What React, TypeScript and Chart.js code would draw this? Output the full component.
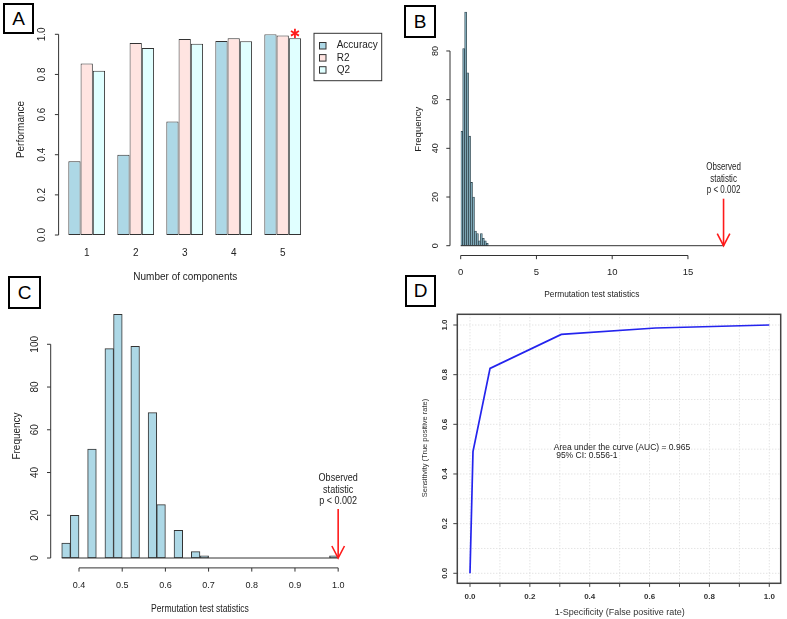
import React, { useEffect, useRef } from "react";
import { Chart, registerables } from "chart.js";
Chart.register(...registerables);

const FONT = '"Liberation Sans", Arial, Helvetica, sans-serif';

// ---------- Panel A: model performance by number of components ----------
const componentLabels = ["1", "2", "3", "4", "5"];
const accuracyValues = [0.368, 0.4, 0.566, 0.967, 1.0];
const r2Values = [0.855, 0.957, 0.977, 0.98, 0.994];
const q2Values = [0.819, 0.932, 0.953, 0.965, 0.98];
const seriesNamesA = ["Accuracy", "R2", "Q2"];
const seriesColorsA = ["#ADD8E6", "#FFE4E1", "#E0FFFF"];
const performanceTicks = [0, 0.2, 0.4, 0.6, 0.8, 1.0];
const bestComponentIndex = 4;

// ---------- Panel B: permutation histogram ----------
const histBBinStarts = [0, 0.13, 0.26, 0.39, 0.52, 0.65, 0.78, 0.91, 1.04, 1.17, 1.3, 1.43, 1.56, 1.69];
const histBBinWidth = 0.13;
const histBCounts = [47, 81, 96, 71, 45, 26, 20, 6, 5, 2, 5, 3, 2, 1];
const histBObserved = 17.35;
const histBXTicks = [0, 5, 10, 15];
const histBYTicks = [0, 20, 40, 60, 80];

// ---------- Panel C: permutation histogram ----------
const histCBinStarts = [
  0.36, 0.38, 0.4, 0.42, 0.44, 0.46, 0.48, 0.5, 0.52, 0.54, 0.56, 0.58, 0.6, 0.62, 0.64, 0.66,
  0.68, 0.7, 0.72, 0.74, 0.76, 0.78, 0.8, 0.82, 0.84, 0.86, 0.88, 0.9, 0.92, 0.94, 0.96, 0.98,
];
const histCBinWidth = 0.02;
const histCCounts = [
  7, 20, 0, 51, 0, 98, 114, 0, 99, 0, 68, 25, 0, 13, 0, 3,
  1, 0, 0, 0, 0, 0, 0, 0, 0, 0, 0, 0, 0, 0, 0, 1,
];
const histCObserved = 1.0;
const histCXTicks = [0.4, 0.5, 0.6, 0.7, 0.8, 0.9, 1.0];
const histCYTicks = [0, 20, 40, 60, 80, 100];

// ---------- Panel D: ROC curve ----------
const rocFpr = [0, 0.01, 0.067, 0.305, 0.62, 1.0];
const rocTpr = [0, 0.49, 0.825, 0.962, 0.988, 1.0];
const rocTicks = [0, 0.2, 0.4, 0.6, 0.8, 1.0];
const rocMinorTicks = [0, 0.1, 0.2, 0.3, 0.4, 0.5, 0.6, 0.7, 0.8, 0.9, 1.0];
const aucLines = ["Area under the curve (AUC) = 0.965", " 95% CI: 0.556-1"];
const aucTextX = 0.28;
const aucTextY = [0.506, 0.472];

const observedLines = ["Observed", "statistic", "p < 0.002"];
const panelTags = [
  { t: "A", x: 3, y: 3, w: 31, h: 31 },
  { t: "B", x: 404, y: 5, w: 32, h: 33 },
  { t: "C", x: 8, y: 276, w: 33, h: 33 },
  { t: "D", x: 405, y: 275, w: 31, h: 32 },
];

type Box = { x: number; y: number; w: number; h: number };
const boxA: Box = { x: 0, y: 0, w: 393, h: 305 };
const boxB: Box = { x: 393, y: 0, w: 394, h: 305 };
const boxC: Box = { x: 0, y: 305, w: 393, h: 314 };
const boxD: Box = { x: 393, y: 305, w: 394, h: 314 };

function pad(b: Box, L: number, T: number, R: number, B: number) {
  return { left: L - b.x, top: T - b.y, right: b.x + b.w - R, bottom: b.y + b.h - B };
}

function text(
  ctx: CanvasRenderingContext2D,
  s: string,
  x: number,
  y: number,
  size: number,
  o: { align?: CanvasTextAlign; rot?: boolean; sx?: number; color?: string; bold?: boolean } = {}
) {
  ctx.save();
  ctx.translate(x, y);
  if (o.rot) ctx.rotate(-Math.PI / 2);
  if (o.sx) ctx.scale(o.sx, 1);
  ctx.font = `${o.bold ? "bold " : ""}${size}px ${FONT}`;
  ctx.fillStyle = o.color || "#222";
  ctx.textAlign = o.align || "center";
  ctx.textBaseline = "middle";
  ctx.fillText(s, 0, 0);
  ctx.restore();
}

function line(
  ctx: CanvasRenderingContext2D,
  x1: number,
  y1: number,
  x2: number,
  y2: number,
  color = "#333",
  w = 1,
  dash: number[] = []
) {
  ctx.save();
  ctx.strokeStyle = color;
  ctx.lineWidth = w;
  ctx.setLineDash(dash);
  ctx.beginPath();
  ctx.moveTo(x1, y1);
  ctx.lineTo(x2, y2);
  ctx.stroke();
  ctx.restore();
}

function arrow(ctx: CanvasRenderingContext2D, x: number, yTop: number, yTip: number) {
  const red = "#ff1a1a";
  line(ctx, x, yTop, x, yTip, red, 1.6);
  ctx.save();
  ctx.strokeStyle = red;
  ctx.lineWidth = 1.6;
  ctx.beginPath();
  ctx.moveTo(x - 6.3, yTip - 12);
  ctx.lineTo(x, yTip);
  ctx.lineTo(x + 6.3, yTip - 12);
  ctx.stroke();
  ctx.restore();
}

function mappers(chart: any, b: Box) {
  const xs = chart.scales.x;
  const ys = chart.scales.y;
  return {
    X: (v: number) => xs.getPixelForValue(v) + b.x,
    Y: (v: number) => ys.getPixelForValue(v) + b.y,
  };
}

// ---------------- configs ----------------
function configA(): any {
  const sets = [accuracyValues, r2Values, q2Values];
  return {
    type: "bar",
    data: {
      labels: componentLabels,
      datasets: sets.map((d, i) => ({
        label: seriesNamesA[i],
        data: d,
        backgroundColor: seriesColorsA[i],
        borderColor: "#333",
        borderWidth: 1,
        borderSkipped: false,
        categoryPercentage: 0.75,
        barPercentage: 1,
      })),
    },
    options: {
      animation: false,
      responsive: false,
      layout: { padding: pad(boxA, 62.2, 34.3, 307.2, 235) },
      plugins: { legend: { display: false }, tooltip: { enabled: false } },
      scales: { x: { display: false }, y: { display: false, min: 0, max: 1 } },
    },
    plugins: [
      {
        id: "rAxesA",
        afterDraw(chart: any) {
          const ctx = chart.ctx as CanvasRenderingContext2D;
          const { X, Y } = mappers(chart, boxA);
          ctx.save();
          ctx.translate(-boxA.x, -boxA.y);
          const ax = 58.6;
          line(ctx, ax, Y(0), ax, Y(1));
          performanceTicks.forEach((t) => {
            line(ctx, ax - 3.7, Y(t), ax, Y(t));
            text(ctx, t.toFixed(1), 42.5, Y(t), 10, { rot: true });
          });
          componentLabels.forEach((l, i) => text(ctx, l, X(i), 253, 10));
          text(ctx, "Performance", 21.7, 129.5, 10, { rot: true });
          text(ctx, "Number of components", 185.3, 277, 10);
          // legend
          ctx.strokeStyle = "#333";
          ctx.lineWidth = 1;
          ctx.strokeRect(314, 33.3, 67.7, 47.4);
          const ly = [45.7, 57.8, 69.9];
          seriesNamesA.forEach((n, i) => {
            ctx.fillStyle = seriesColorsA[i];
            ctx.fillRect(319.5, ly[i] - 3.2, 6.5, 6.5);
            ctx.strokeRect(319.5, ly[i] - 3.2, 6.5, 6.5);
            text(ctx, n, 336.7, ly[i], 10, { align: "left" });
          });
          // star over best model
          const bar = chart.getDatasetMeta(2).data[bestComponentIndex];
          const sx = bar.x + boxA.x;
          const sy = Y(1) - 1;
          for (let k = 0; k < 3; k++) {
            const a = Math.PI / 2 + (k * Math.PI) / 3;
            line(ctx, sx - 4.6 * Math.cos(a), sy - 4.6 * Math.sin(a), sx + 4.6 * Math.cos(a), sy + 4.6 * Math.sin(a), "#ff1a1a", 1.8);
          }
          ctx.restore();
        },
      },
    ],
  };
}

function configB(): any {
  return {
    type: "bar",
    data: {
      datasets: [
        {
          data: histBBinStarts.map((s, i) => ({ x: s + histBBinWidth / 2, y: histBCounts[i] })),
          backgroundColor: "#7ea9b8",
          borderColor: "#2f4650",
          borderWidth: 0.8,
          borderSkipped: false,
          categoryPercentage: 1,
          barPercentage: 1,
        },
      ],
    },
    options: {
      animation: false,
      responsive: false,
      layout: { padding: pad(boxB, 460.7, 2.3, 733.4, 245.7) },
      plugins: { legend: { display: false }, tooltip: { enabled: false } },
      scales: {
        x: { type: "linear", offset: false, display: false, min: 0, max: 18 },
        y: { display: false, min: 0, max: 100 },
      },
    },
    plugins: [
      {
        id: "rAxesB",
        afterDraw(chart: any) {
          const ctx = chart.ctx as CanvasRenderingContext2D;
          const { X, Y } = mappers(chart, boxB);
          ctx.save();
          ctx.translate(-boxB.x, -boxB.y);
          const ax = 450;
          line(ctx, ax, Y(0), ax, Y(80));
          histBYTicks.forEach((t) => {
            line(ctx, ax - 3.7, Y(t), ax, Y(t));
            text(ctx, String(t), 435.7, Y(t), 9, { rot: true });
          });
          const ay = 255.5;
          line(ctx, X(0), ay, X(15), ay);
          histBXTicks.forEach((t) => {
            line(ctx, X(t), ay, X(t), ay + 3.7);
            text(ctx, String(t), X(t), 272.7, 9.5);
          });
          line(ctx, X(0), Y(0), X(histBObserved), Y(0), "#333", 1);
          const ox = X(histBObserved);
          arrow(ctx, ox, Y(0) - 47, Y(0));
          [167.7, 179.3, 190.7].forEach((yy, i) => text(ctx, observedLines[i], ox, yy, 10, { sx: 0.8 }));
          text(ctx, "Frequency", 418, 129.2, 9.5, { rot: true });
          text(ctx, "Permutation test statistics", 591.8, 294.7, 9.5, { sx: 0.88 });
          ctx.restore();
        },
      },
    ],
  };
}

function configC(): any {
  return {
    type: "bar",
    data: {
      datasets: [
        {
          data: histCBinStarts.map((s, i) => ({ x: s + histCBinWidth / 2, y: histCCounts[i] })),
          backgroundColor: "#ADD8E6",
          borderColor: "#333",
          borderWidth: 1,
          borderSkipped: false,
          categoryPercentage: 1,
          barPercentage: 1,
        },
      ],
    },
    options: {
      animation: false,
      responsive: false,
      layout: { padding: pad(boxC, 53.1, 312.24, 346.8, 558) },
      plugins: { legend: { display: false }, tooltip: { enabled: false } },
      scales: {
        x: { type: "linear", offset: false, display: false, min: 0.34, max: 1.02 },
        y: { display: false, min: 0, max: 115 },
      },
    },
    plugins: [
      {
        id: "rAxesC",
        afterDraw(chart: any) {
          const ctx = chart.ctx as CanvasRenderingContext2D;
          const { X, Y } = mappers(chart, boxC);
          ctx.save();
          ctx.translate(-boxC.x, -boxC.y);
          const ax = 50.7;
          line(ctx, ax, Y(0), ax, Y(100));
          histCYTicks.forEach((t) => {
            line(ctx, ax - 3.7, Y(t), ax, Y(t));
            text(ctx, String(t), 35, Y(t), 10, { rot: true });
          });
          const ay = 567.9;
          line(ctx, X(0.4), ay, X(1.0), ay);
          histCXTicks.forEach((t) => {
            line(ctx, X(t), ay, X(t), ay + 3.7);
            text(ctx, t.toFixed(1), X(t), 586, 9);
          });
          line(ctx, X(histCBinStarts[0]), Y(0), X(histCObserved), Y(0), "#333", 1);
          const ox = X(histCObserved);
          arrow(ctx, ox, Y(0) - 49, Y(0));
          [477.7, 489.7, 501.2].forEach((yy, i) => text(ctx, observedLines[i], ox, yy, 10.5, { sx: 0.86 }));
          text(ctx, "Frequency", 17.3, 436, 10, { rot: true });
          text(ctx, "Permutation test statistics", 200, 609.3, 11, { sx: 0.78 });
          ctx.restore();
        },
      },
    ],
  };
}

function configD(): any {
  return {
    type: "line",
    data: {
      datasets: [
        {
          data: rocFpr.map((x, i) => ({ x, y: rocTpr[i] })),
          borderColor: "#2424ee",
          borderWidth: 1.7,
          pointRadius: 0,
          tension: 0,
          fill: false,
        },
      ],
    },
    options: {
      animation: false,
      responsive: false,
      layout: { padding: pad(boxD, 457.3, 314.3, 780.7, 583.3) },
      plugins: { legend: { display: false }, tooltip: { enabled: false } },
      scales: {
        x: { type: "linear", display: false, min: -0.0424, max: 1.0381 },
        y: { type: "linear", display: false, min: -0.0403, max: 1.0431 },
      },
    },
    plugins: [
      {
        id: "rGridD",
        beforeDatasetsDraw(chart: any) {
          const ctx = chart.ctx as CanvasRenderingContext2D;
          const { X, Y } = mappers(chart, boxD);
          const ca = chart.chartArea;
          ctx.save();
          ctx.translate(-boxD.x, -boxD.y);
          const L = ca.left + boxD.x, R = ca.right + boxD.x, T = ca.top + boxD.y, B = ca.bottom + boxD.y;
          rocMinorTicks.forEach((t) => {
            line(ctx, X(t), T, X(t), B, "#d8d8d8", 1, [1, 2]);
            line(ctx, L, Y(t), R, Y(t), "#d8d8d8", 1, [1, 2]);
          });
          ctx.restore();
        },
        afterDraw(chart: any) {
          const ctx = chart.ctx as CanvasRenderingContext2D;
          const { X, Y } = mappers(chart, boxD);
          const ca = chart.chartArea;
          ctx.save();
          ctx.translate(-boxD.x, -boxD.y);
          const L = ca.left + boxD.x, R = ca.right + boxD.x, T = ca.top + boxD.y, B = ca.bottom + boxD.y;
          ctx.strokeStyle = "#444";
          ctx.lineWidth = 1.5;
          ctx.strokeRect(L, T, R - L, B - T);
          rocMinorTicks.forEach((t) => line(ctx, X(t), B, X(t), B + 3.6, "#444", 1));
          rocTicks.forEach((t) => {
            text(ctx, t.toFixed(1), X(t), 596.7, 8, { bold: true, color: "#333" });
            line(ctx, L - 4, Y(t), L, Y(t), "#444", 1);
            text(ctx, t.toFixed(1), 444.7, Y(t), 8, { bold: true, rot: true, color: "#333" });
          });
          text(ctx, "1-Specificity (False positive rate)", 619.7, 613, 9, { color: "#333" });
          text(ctx, "Sensitivity (True positive rate)", 425, 448, 7.5, { rot: true, color: "#333" });
          aucLines.forEach((s, i) => text(ctx, s, X(aucTextX), Y(aucTextY[i]), 8.5, { align: "left", color: "#222" }));
          ctx.restore();
        },
      },
    ],
  };
}

function Panel({ box, make }: { box: Box; make: () => any }) {
  const ref = useRef<HTMLCanvasElement>(null);
  useEffect(() => {
    const chart = new Chart(ref.current as HTMLCanvasElement, make());
    return () => chart.destroy();
  }, []);
  return (
    <canvas
      ref={ref}
      width={box.w}
      height={box.h}
      style={{ position: "absolute", left: box.x, top: box.y, width: box.w, height: box.h }}
    />
  );
}

export default function App() {
  return (
    <div
      style={{
        position: "fixed",
        left: 0,
        top: 0,
        width: 787,
        height: 619,
        background: "#fff",
        overflow: "hidden",
      }}
    >
      <Panel box={boxA} make={configA} />
      <Panel box={boxB} make={configB} />
      <Panel box={boxC} make={configC} />
      <Panel box={boxD} make={configD} />
      {panelTags.map((p) => (
        <div
          key={p.t}
          style={{
            position: "absolute",
            left: p.x,
            top: p.y,
            width: p.w,
            height: p.h,
            boxSizing: "border-box",
            border: "2px solid #000",
            background: "#fff",
            display: "flex",
            alignItems: "center",
            justifyContent: "center",
            fontFamily: FONT,
            fontSize: 19,
            color: "#000",
          }}
        >
          {p.t}
        </div>
      ))}
    </div>
  );
}
